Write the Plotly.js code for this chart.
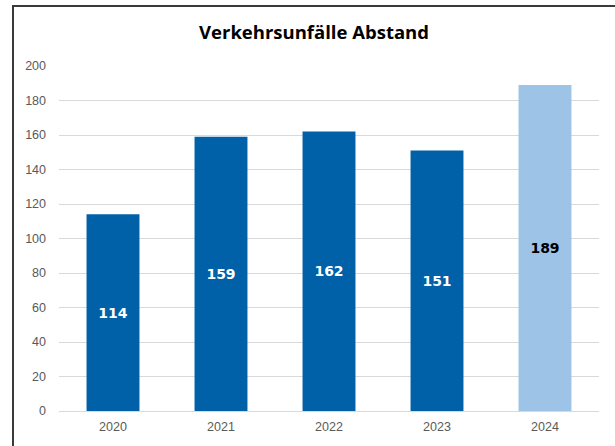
<!DOCTYPE html>
<html><head><meta charset="utf-8">
<script src="https://cdn.plot.ly/plotly-3.0.1.min.js"></script>
<style>
html,body{margin:0;padding:0;background:#fff;overflow:hidden}
#wrap{position:relative;width:615px;height:446px}
#chart{position:absolute;left:0;top:0;width:615px;height:446px}
#frame{position:absolute;left:12px;top:5px;width:700px;height:600px;border-left:2px solid #3a3a3a;border-top:2px solid #3a3a3a;pointer-events:none}
</style></head>
<body><div id="wrap"><div id="chart"></div><div id="frame"></div></div>
<script>
const years = ["2020","2021","2022","2023","2024"];
const accidents = [114,159,162,151,189];
const barColors = ["#0060a8","#0060a8","#0060a8","#0060a8","#9dc3e6"];
const labelColors = ["#ffffff","#ffffff","#ffffff","#ffffff","#000000"];
const yTicks = [0,20,40,60,80,100,120,140,160,180,200];

const trace = {
  type:'bar', x: years, y: accidents,
  marker:{color: barColors},
  text: accidents.map(String), textposition:'inside', insidetextanchor:'middle',
  textangle:0,
  textfont:{family:'DejaVu Sans', size:14, color: labelColors, weight:'bold'},
  hoverinfo:'none'
};
const layout = {
  width:615, height:446,
  margin:{l:59, r:16, t:66, b:35},
  paper_bgcolor:'#fff', plot_bgcolor:'#fff',
  bargap:0.51,
  showlegend:false,
  title:{text:'<b>Verkehrsunfälle Abstand</b>', font:{family:'Open Sans', size:18.5, color:'#000'},
    xref:'container', x:314/615, xanchor:'center', yref:'container', y:1-33/446, yanchor:'middle'},
  xaxis:{type:'category', showgrid:false, showline:false, zeroline:false, ticks:'',
    tickfont:{family:'Liberation Sans', size:12.5, color:'#595959'}, ticklabelstandoff:6},
  yaxis:{range:[0,200], tickvals:yTicks, showgrid:true, gridcolor:'#d9d9d9', gridwidth:1,
    zeroline:true, zerolinecolor:'#d9d9d9', zerolinewidth:1, showline:false, ticks:'',
    tickfont:{family:'Liberation Sans', size:12.5, color:'#595959'}, ticklabelstandoff:12}
};
Plotly.newPlot('chart',[trace],layout,{staticPlot:true, displayModeBar:false});
</script></body></html>
